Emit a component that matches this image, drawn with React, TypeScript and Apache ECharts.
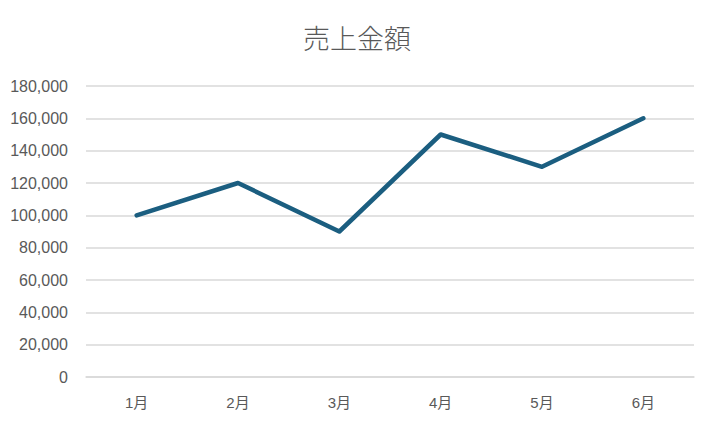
import React, { useEffect, useRef } from "react";
import * as echarts from "echarts";

const categories = ["1月", "2月", "3月", "4月", "5月", "6月"];
const sales = [100000, 120000, 90000, 150000, 130000, 160000];
const titleText = "売上金額";

export default function App() {
  const ref = useRef<HTMLDivElement>(null);
  useEffect(() => {
    document.body.style.margin = "0";
    const chart = echarts.init(ref.current!, null, { renderer: "svg" });
    chart.setOption({
      animation: false,
      backgroundColor: "#ffffff",
      title: {
        text: titleText,
        left: "center",
        top: 19,
        textStyle: { color: "#595959", fontSize: 27, fontWeight: 300, fontFamily: "Noto Sans CJK JP" },
      },
      grid: { left: 86, right: 20, top: 86, bottom: 53, containLabel: false },
      xAxis: {
        type: "category",
        data: categories,
        boundaryGap: true,
        axisLine: { show: true, lineStyle: { color: "#d9d9d9", width: 1.5 } },
        axisTick: { show: false },
        axisLabel: { color: "#595959", fontSize: 15, margin: 18, fontFamily: "Liberation Sans, Noto Sans CJK JP" },
      },
      yAxis: {
        type: "value",
        min: 0,
        max: 180000,
        interval: 20000,
        axisLine: { show: false },
        axisTick: { show: false },
        splitLine: { lineStyle: { color: "#d9d9d9", width: 1.5 } },
        axisLabel: {
          color: "#595959",
          fontSize: 16,
          margin: 18,
          fontFamily: "Liberation Sans",
          formatter: (v: number) => v.toLocaleString("en-US"),
        },
      },
      series: [
        {
          type: "line",
          data: sales,
          symbol: "none",
          lineStyle: { color: "#1b5e80", width: 4.5, cap: "round", join: "round" },
        },
      ],
    });
    return () => chart.dispose();
  }, []);
  return <div ref={ref} style={{ width: 714, height: 430 }} />;
}
